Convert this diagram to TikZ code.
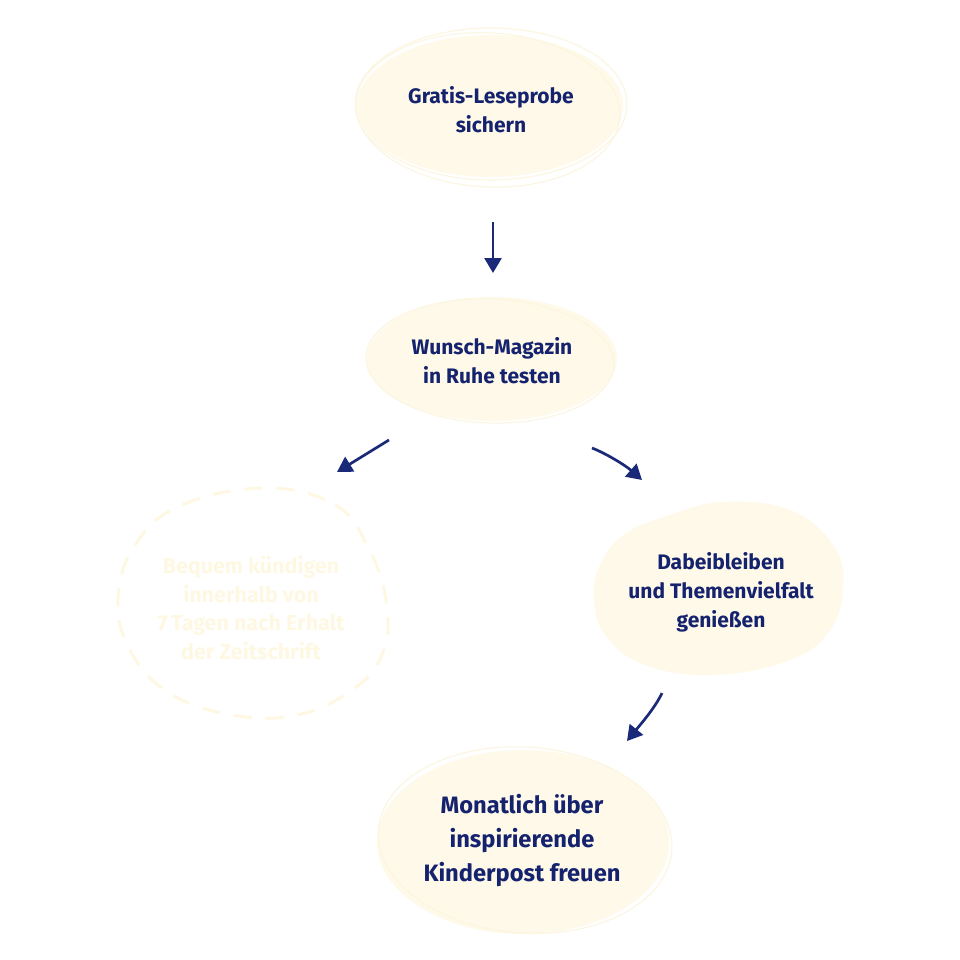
\documentclass[tikz,border=0pt]{standalone}
\usepackage{fontspec}
\setmainfont{Fira Sans}
\usetikzlibrary{arrows.meta}
\definecolor{navy}{HTML}{15226E}
\definecolor{arrowc}{HTML}{1B2A78}
\definecolor{blobfill}{HTML}{FEF9E8}
\definecolor{blobline}{HTML}{FCF6E0}
\definecolor{palecol}{HTML}{FEF8E3}
\tikzset{
  txt/.style={align=center,text=navy,font=\bfseries\fontsize{21}{29}\selectfont},
  bigtxt/.style={align=center,text=navy,font=\bfseries\fontsize{23.7}{34}\selectfont},
  paletxt/.style={align=center,text=palecol,font=\bfseries\fontsize{21.5}{28.5}\selectfont},
  ring/.style={draw=blobline,line width=1.1pt},
  flow/.style={draw=arrowc,line width=2.7pt,-{Triangle[length=15pt,width=17pt]}},
}
\begin{document}
\begin{tikzpicture}[x=1pt,y=-1pt]
\useasboundingbox[fill=white] (0,0) rectangle (960,960);
% blob 1
\fill[blobfill] (490,106) ellipse [x radius=133,y radius=71];
\draw[ring] (491,104) ellipse [x radius=136,y radius=76];
\draw[ring,rotate around={-3:(490,108)}] (488,110) ellipse [x radius=132,y radius=77];
\node[txt] (n1) at (491,110) {Gratis-Leseprobe\\sichern};
% blob 2
\fill[blobfill] (492,359) ellipse [x radius=125,y radius=62];
\draw[ring,rotate around={-2:(492,359)}] (490,361) ellipse [x radius=124,y radius=62];
\node[txt] (n2) at (492,361) {Wunsch-Magazin\\in Ruhe testen};
% dashed blob
\draw[draw=palecol,line width=3pt,dash pattern=on 18pt off 14pt]
  plot[smooth cycle,tension=0.7] coordinates {(267,488) (335,505) (367,545) (386,600) (383,652) (352,690) (292,716) (222,713) (165,690) (130,650) (118,600) (135,545) (182,505)};
\node[paletxt] (n3) at (251,608) {Bequem kündigen\\innerhalb von\\7\,Tagen nach Erhalt\\der Zeitschrift};
% blob 3
\fill[blobfill] plot[smooth cycle,tension=0.7] coordinates {(723,502) (790,510) (833,545) (843,585) (830,630) (790,660) (713,675) (645,665) (606,636) (594,600) (600,565) (625,534) (670,515)};
\node[txt] (n4) at (721,592) {Dabeibleiben\\und Themenvielfalt\\genießen};
% blob 4
\fill[blobfill] (523,842) ellipse [x radius=146,y radius=92];
\draw[ring,rotate around={-4:(523,842)}] (525,840) ellipse [x radius=147,y radius=93];
\node[bigtxt] (n5) at (522,841) {Monatlich über\\inspirierende\\Kinderpost freuen};
% arrows
\coordinate (a1s) at (493,222); \coordinate (a1e) at (493,273);
\coordinate (a2s) at (389,440); \coordinate (a2e) at (337,472);
\coordinate (a3s) at (592,448); \coordinate (a3e) at (642,480);
\coordinate (a4s) at (662,693); \coordinate (a4e) at (627,741);
\draw[flow] (a1s) -- (a1e);
\draw[flow] (a2s) -- (a2e);
\draw[flow] (a3s) .. controls (605,453) and (625,465) .. (a3e);
\draw[flow] (a4s) .. controls (655,708) and (640,725) .. (a4e);
\end{tikzpicture}
\end{document}
